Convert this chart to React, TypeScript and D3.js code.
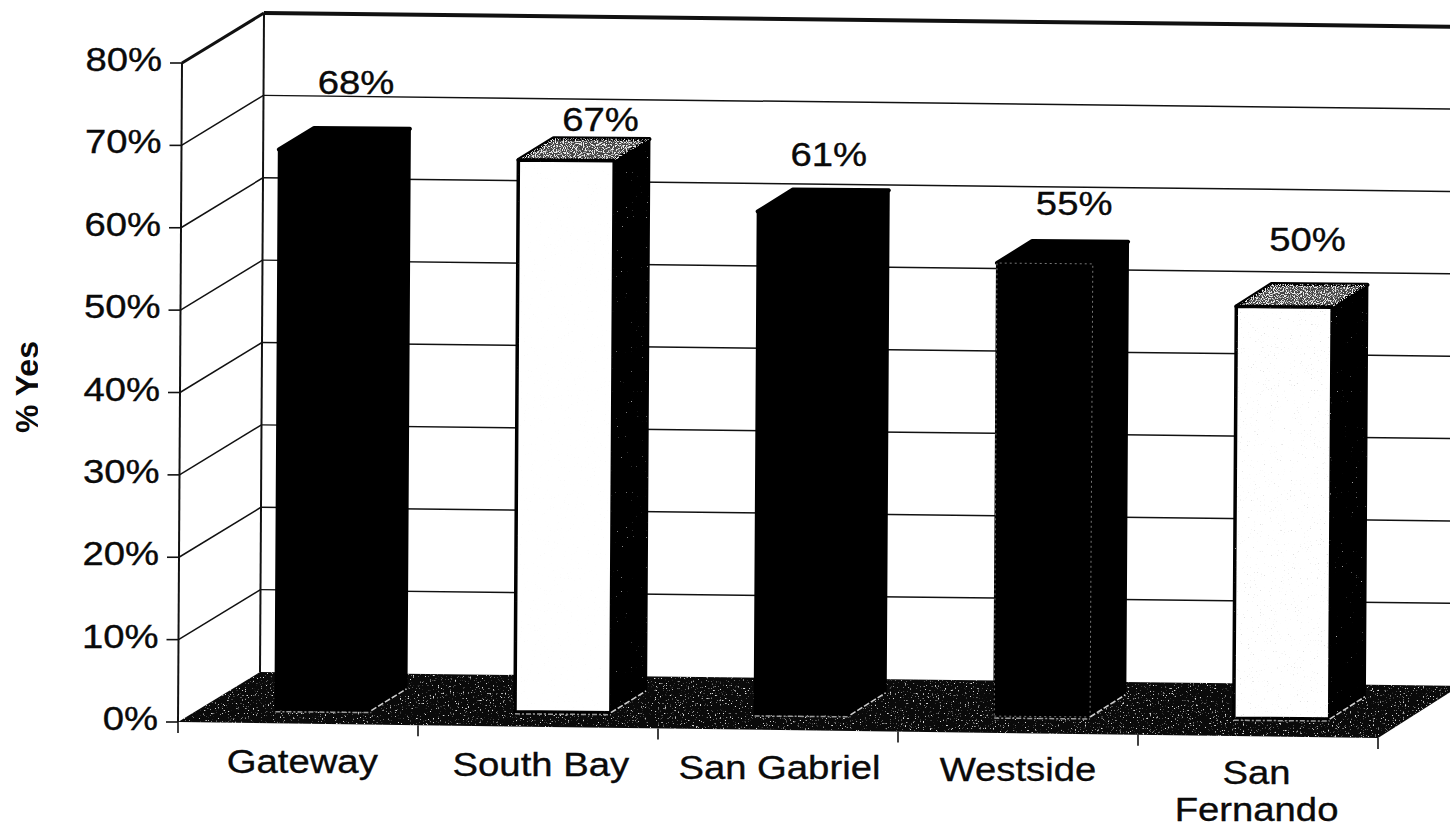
import React from "react";
import * as d3 from "d3";

// Survey results by region
const categories = ["Gateway", "South Bay", "San Gabriel", "Westside", "San Fernando"];
const values = [68, 67, 61, 55, 50];
const valueTicks = [0, 10, 20, 30, 40, 50, 60, 70, 80];
const faceFills = ["#000", "#fff", "#000", "#000", "#fff"];
const labelOffsets = [
  [10, -25],
  [15, 1],
  [4, -16],
  [10, -20],
  [4, -28],
];

const W = 1450;
const H = 830;
const FONT = "'Liberation Sans', Arial, sans-serif";

// Oblique chart space: run along the floor, value up the wall, depth into the page
const yValue = d3.scaleLinear().domain([0, 80]).range([0, 659]);
const run = d3.scaleLinear().domain([0, 1]).range([0, 1200]);
const band = d3
  .scaleBand<string>()
  .domain(categories)
  .range([7.5, 1205.5])
  .paddingInner(0.6)
  .paddingOuter(0.3);
const tickPos = d3.scalePoint<string>().domain(d3.range(6).map(String)).range([0, 1200]);

function project(u: number, v: number, d: number): [number, number] {
  const h = yValue(v);
  return [178 + u + 82 * d + (4 * h) / 659, 722 - h + (0.0133 - 0.0018 * d) * u - 50 * d];
}

// Bars sit on a plane tilted very slightly less than the floor edge
function projectBar(u: number, v: number, d: number): [number, number] {
  const [x, y] = project(u, v, d);
  return [x, y - 2 - 0.004 * u];
}

const poly = (pts: [number, number][]) => `M${pts.map((p) => p.join(",")).join("L")}Z`;
const line = (a: [number, number], b: [number, number]) => `M${a.join(",")}L${b.join(",")}`;

function Label({ x, y, text, anchor = "middle" }: { x: number; y: number; text: string; anchor?: string }) {
  return (
    <text
      transform={`translate(${x},${y}) scale(1.16,1)`}
      textAnchor={anchor as any}
      fontFamily={FONT}
      fontSize={33}
      fill="#0a0a0a"
      stroke="#0a0a0a"
      strokeWidth={0.35}
    >
      {text}
    </text>
  );
}

export default function App() {
  const end = run(1);
  const barFront = 0.22;
  const barBack = 0.65;
  return (
    <svg
      width={W}
      height={H}
      viewBox={`0 0 ${W} ${H}`}
      style={{ position: "absolute", left: 0, top: 0, background: "#fff" }}
    >
      <defs>
        <filter id="grain-floor" x="0" y="0" width="100%" height="100%">
          <feTurbulence type="fractalNoise" baseFrequency="0.6" numOctaves="3" seed="4" />
          <feColorMatrix values="0 0 0 0 0.75  0 0 0 0 0.75  0 0 0 0 0.75  7 0 0 0 -4.5" />
          <feComposite in2="SourceAlpha" operator="in" />
        </filter>
        <filter id="grain-top" x="0" y="0" width="100%" height="100%">
          <feTurbulence type="fractalNoise" baseFrequency="0.9" numOctaves="2" seed="9" />
          <feColorMatrix values="0 0 0 0 0.85  0 0 0 0 0.85  0 0 0 0 0.85  8 0 0 0 -3.9" />
          <feComposite in2="SourceAlpha" operator="in" />
        </filter>
        <filter id="grain-side" x="0" y="0" width="100%" height="100%">
          <feTurbulence type="fractalNoise" baseFrequency="0.8" numOctaves="1" seed="15" />
          <feColorMatrix values="0 0 0 0 0.6  0 0 0 0 0.6  0 0 0 0 0.6  9 0 0 0 -6.6" />
          <feComposite in2="SourceAlpha" operator="in" />
        </filter>
        <filter id="grain-face" x="0" y="0" width="100%" height="100%">
          <feTurbulence type="fractalNoise" baseFrequency="0.7" numOctaves="2" seed="21" />
          <feColorMatrix values="0 0 0 0 0.65  0 0 0 0 0.65  0 0 0 0 0.65  8 0 0 0 -5.6" />
          <feComposite in2="SourceAlpha" operator="in" />
        </filter>
      </defs>

      {/* Floor */}
      {(() => {
        const floor = poly([project(0, 0, 0), project(end, 0, 0), project(end, 0, 1), project(0, 0, 1)]);
        return (
          <g>
            <path d={floor} fill="#0a0a0a" />
            <path d={floor} fill="#000" filter="url(#grain-floor)" />
          </g>
        );
      })()}

      {/* Back wall gridlines */}
      {valueTicks.slice(1).map((t) => (
        <path
          key={`back-${t}`}
          d={line(project(0, t, 1), project(end, t, 1))}
          stroke="#111"
          strokeWidth={t === 80 ? 4 : 1.5}
          fill="none"
        />
      ))}

      {/* Side wall gridlines */}
      {valueTicks.slice(1).map((t) => (
        <path
          key={`side-${t}`}
          d={line(project(0, t, 0), project(0, t, 1))}
          stroke="#111"
          strokeWidth={t === 80 ? 3 : 1.5}
          fill="none"
        />
      ))}

      {/* Wall edges */}
      <path d={line(project(0, 0, 0), project(0, 80, 0))} stroke="#111" strokeWidth={2} />
      <path d={line(project(0, 0, 1), project(0, 80, 1))} stroke="#111" strokeWidth={2} />

      {/* Value axis ticks and labels */}
      {valueTicks.map((t) => {
        const [x, y] = project(0, t, 0);
        return (
          <g key={`tick-${t}`}>
            <path d={`M${x - 12},${y}H${x}`} stroke="#111" strokeWidth={1.6} />
            <Label x={x - 20} y={y + 8} text={`${t}%`} anchor="end" />
          </g>
        );
      })}

      {/* Category axis ticks */}
      {d3.range(6).map((i) => {
        const u = tickPos(String(i)) as number;
        const [x, y] = project(u, 0, 0);
        return <path key={`xt-${i}`} d={`M${x},${y}V${y + 11}`} stroke="#111" strokeWidth={1.6} />;
      })}

      {/* Bars */}
      {categories.map((c, i) => {
        const v = values[i];
        const u0 = band(c) as number;
        const u1 = u0 + band.bandwidth();
        const solid = faceFills[i] === "#000";
        const front = poly([
          projectBar(u0, 0, barFront),
          projectBar(u1, 0, barFront),
          projectBar(u1, v, barFront),
          projectBar(u0, v, barFront),
        ]);
        const side = poly([
          projectBar(u1, 0, barFront),
          projectBar(u1, 0, barBack),
          projectBar(u1, v, barBack),
          projectBar(u1, v, barFront),
        ]);
        const top = poly([
          projectBar(u0, v, barFront),
          projectBar(u1, v, barFront),
          projectBar(u1, v, barBack),
          projectBar(u0, v, barBack),
        ]);
        return (
          <g key={c}>
            <path d={side} fill="#000" stroke="#000" strokeWidth={2} strokeLinejoin="round" />
            {!solid && <path d={side} fill="#000" filter="url(#grain-side)" />}
            <path d={top} fill={solid ? "#000" : "#444"} stroke="#000" strokeWidth={4} strokeLinejoin="round" />
            {!solid && <path d={top} fill="#000" filter="url(#grain-top)" />}
            <path d={front} fill={faceFills[i]} stroke="#000" strokeWidth={solid ? 2 : 3.5} strokeLinejoin="round" />
            {!solid && <path d={front} fill="#000" filter="url(#grain-face)" opacity={i === 4 ? 0.7 : 0.12} />}
            {/* Faint dotted outline on the Westside face */}
            {c === "Westside" && (
              <path d={front} fill="none" stroke="#777" strokeWidth={1} strokeDasharray="2 3" />
            )}
            {/* Pale edge along the foot of each bar */}
            <path
              d={line(projectBar(u0, 0, barFront), projectBar(u1, 0, barFront))}
              stroke="#999"
              strokeWidth={1.5}
              strokeDasharray="5 2 2 2"
              transform="translate(0,2)"
            />
            <path
              d={line(projectBar(u1, 0, barFront), projectBar(u1, 0, barBack))}
              stroke="#ccc"
              strokeWidth={1.6}
              strokeDasharray="6 2"
            />
          </g>
        );
      })}

      {/* Value labels */}
      {categories.map((c, i) => {
        const u = (band(c) as number) + band.bandwidth() / 2;
        const [x, y] = project(u, values[i], barBack);
        return (
          <Label
            key={`val-${c}`}
            x={x - 16 + labelOffsets[i][0]}
            y={y - 12 + labelOffsets[i][1]}
            text={`${values[i]}%`}
          />
        );
      })}

      {/* Category labels */}
      {categories.map((c, i) => {
        const u = ((tickPos(String(i)) as number) + (tickPos(String(i + 1)) as number)) / 2;
        const [x, y] = project(u, 0, 0);
        const words = c === "San Fernando" ? c.split(" ") : [c];
        return words.map((w, k) => (
          <Label key={`${c}-${k}`} x={x + 5 - 0.006 * u} y={y + 50 - 0.002 * u + k * 37} text={w} />
        ));
      })}

      {/* Axis title, trimmed at the edge of its box */}
      <clipPath id="title-clip">
        <rect x={0} y={342} width={38} height={110} />
      </clipPath>
      <g clipPath="url(#title-clip)">
        <text
          transform="translate(38,433) rotate(-90)"
          fontFamily={FONT}
          fontWeight="bold"
          fontSize={32}
          fill="#0a0a0a"
        >
          % Yes
        </text>
      </g>
    </svg>
  );
}
